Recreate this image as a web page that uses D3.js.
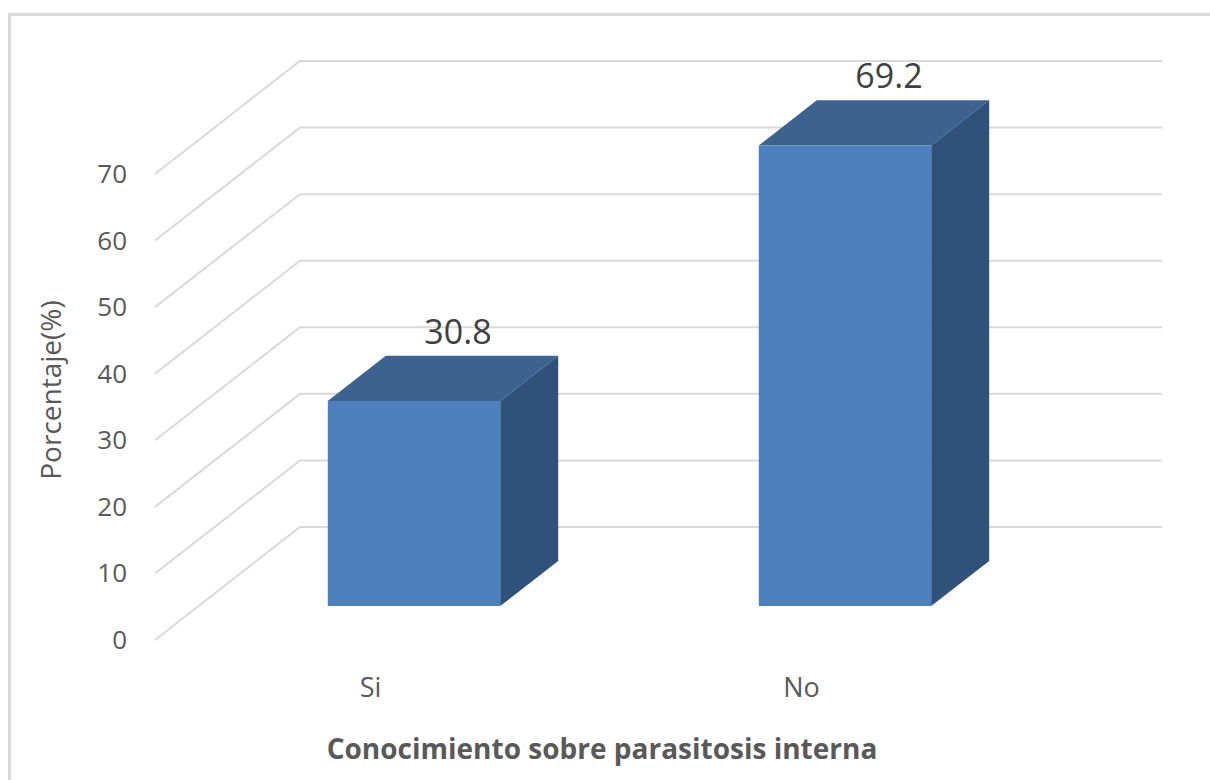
<!DOCTYPE html>
<html>
<head>
<meta charset="utf-8">
<script src="https://cdn.jsdelivr.net/npm/d3@7"></script>
<style>
  body { margin: 0; background: #ffffff; }
  svg { display: block; font-family: 'Open Sans', 'Noto Sans', sans-serif; }
</style>
</head>
<body>
<div class="graph-container"></div>
<script>
// chart data
var categories = ['Si', 'No'];
var values = [30.8, 69.2];
var tickValues = [0, 10, 20, 30, 40, 50, 60, 70];

var svgWidth = 1210;
var svgHeight = 780;

// front floor corner and size of the plot box
var floorLeft = 155;
var floorBottom = 640;
var plotWidth = 862;
var plotHeight = 466;
// offset of the back wall from the front plane
var depthX = 145;
var depthY = -113;
// bars sit between these depth fractions
var barFront = 0.3;
var barBack = 0.7;

var gridColor = '#d9d9d9';
var textColor = '#595959';

var svg = d3.select('.graph-container').append('svg')
  .attr('width', svgWidth)
  .attr('height', svgHeight);

// x scale gives the position along the floor
var xScale = d3.scaleBand()
  .domain(categories)
  .range([0, plotWidth])
  .paddingInner(0.6)
  .paddingOuter(0.3);

var yScale = d3.scaleLinear()
  .domain([0, 70])
  .range([0, plotHeight]);

// project (x along floor, value, depth) to screen
function pt(x, v, d) {
  return [floorLeft + x + depthX * d, floorBottom - yScale(v) + depthY * d];
}

function poly(points) {
  return points.map(function(p) { return p.join(','); }).join(' ');
}

// chart border
svg.append('path')
  .attr('d', 'M9.5,780 V14.5 H1210')
  .attr('fill', 'none')
  .attr('stroke', gridColor)
  .attr('stroke-width', 3);

// gridlines: side wall diagonal + back wall horizontal
svg.selectAll('.grid')
  .data(tickValues)
  .enter()
  .append('polyline')
  .attr('class', 'grid')
  .attr('points', function(v) {
    return poly([pt(0, v, 0), pt(0, v, 1), pt(plotWidth, v, 1)]);
  })
  .attr('fill', 'none')
  .attr('stroke', gridColor)
  .attr('stroke-width', 2);

// y tick labels
svg.selectAll('.tick-label')
  .data(tickValues)
  .enter()
  .append('text')
  .attr('class', 'tick-label')
  .attr('x', 127)
  .attr('y', function(v) { return pt(0, v, 0)[1] + 9; })
  .style('text-anchor', 'end')
  .style('font-size', '26px')
  .attr('fill', textColor)
  .text(function(v) { return v; });

// bars: top, side and front faces
var bars = svg.selectAll('.bar')
  .data(categories)
  .enter()
  .append('g')
  .attr('class', 'bar');

bars.append('polygon')
  .attr('points', function(c, i) {
    var x0 = xScale(c), x1 = x0 + xScale.bandwidth(), v = values[i];
    return poly([pt(x0, v, barFront), pt(x1, v, barFront), pt(x1, v, barBack), pt(x0, v, barBack)]);
  })
  .attr('fill', '#3c6290');

bars.append('polygon')
  .attr('points', function(c, i) {
    var x1 = xScale(c) + xScale.bandwidth(), v = values[i];
    return poly([pt(x1, 0, barFront), pt(x1, v, barFront), pt(x1, v, barBack), pt(x1, 0, barBack)]);
  })
  .attr('fill', '#30517a');

bars.append('polygon')
  .attr('points', function(c, i) {
    var x0 = xScale(c), x1 = x0 + xScale.bandwidth(), v = values[i];
    return poly([pt(x0, 0, barFront), pt(x1, 0, barFront), pt(x1, v, barFront), pt(x0, v, barFront)]);
  })
  .attr('fill', '#4e80bd');

// value labels above each bar
bars.append('text')
  .attr('x', function(c) { return pt(xScale(c) + xScale.bandwidth() / 2, 0, barFront)[0] + 44; })
  .attr('y', function(c, i) { return pt(0, values[i], barBack)[1] - 12; })
  .style('text-anchor', 'middle')
  .style('font-size', '34px')
  .attr('fill', '#404040')
  .text(function(c, i) { return values[i]; });

// category labels on the front floor
svg.selectAll('.cat-label')
  .data(categories)
  .enter()
  .append('text')
  .attr('class', 'cat-label')
  .attr('x', function(c) { return floorLeft + xScale(c) + xScale.bandwidth() / 2; })
  .attr('y', 697)
  .style('text-anchor', 'middle')
  .style('font-size', '27px')
  .attr('fill', textColor)
  .text(function(c) { return c; });

// x-axis title
svg.append('text')
  .attr('x', 602)
  .attr('y', 759)
  .style('text-anchor', 'middle')
  .style('font-size', '28px')
  .style('font-weight', 'bold')
  .attr('fill', textColor)
  .text('Conocimiento sobre parasitosis interna');

// y-axis title
svg.append('text')
  .attr('transform', 'translate(61,390) rotate(-90)')
  .style('text-anchor', 'middle')
  .style('font-size', '28px')
  .attr('fill', textColor)
  .text('Porcentaje(%)');
</script>
</body>
</html>
